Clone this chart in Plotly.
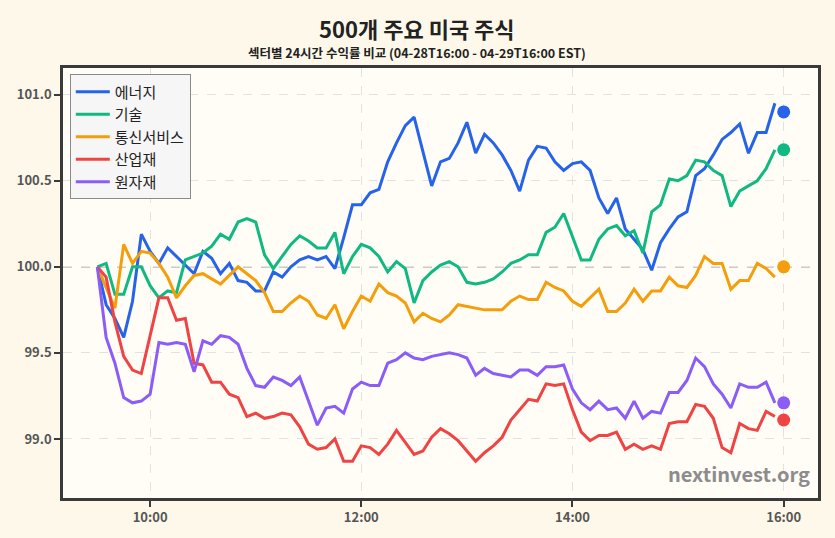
import plotly.graph_objects as go
import pandas as pd

# ---------------- data ----------------
start_time = "2025-04-29 09:30"
n_points = 78  # 5-minute steps, 09:30 .. 15:55
times = pd.date_range(start_time, periods=n_points, freq="5min")
end_time = "2025-04-29 16:00"

sector_names = ["에너지", "기술", "통신서비스", "산업재", "원자재"]

energy = [100.00, 99.78, 99.70, 99.59, 99.80, 100.19, 100.09, 100.02, 100.11, 100.06,
          100.01, 99.96, 100.09, 100.05, 99.96, 100.02, 99.92, 99.91, 99.86, 99.86,
          99.97, 99.94, 100.00, 100.04, 100.06, 100.04, 100.06, 99.99, 100.17, 100.36,
          100.36, 100.43, 100.45, 100.61, 100.72, 100.82, 100.87, 100.67, 100.47, 100.61,
          100.63, 100.72, 100.84, 100.66, 100.77, 100.72, 100.65, 100.56, 100.44, 100.62,
          100.70, 100.69, 100.61, 100.56, 100.60, 100.61, 100.56, 100.40, 100.31, 100.40,
          100.22, 100.16, 100.10, 99.98, 100.14, 100.22, 100.29, 100.32, 100.53, 100.57,
          100.65, 100.74, 100.78, 100.83, 100.66, 100.78, 100.78, 100.95]

tech = [100.00, 100.02, 99.84, 99.84, 100.00, 100.00, 99.89, 99.82, 99.86, 99.85,
        100.04, 100.06, 100.08, 100.12, 100.19, 100.16, 100.26, 100.28, 100.26, 100.07,
        99.99, 100.06, 100.13, 100.18, 100.15, 100.11, 100.11, 100.20, 99.96, 100.06,
        100.13, 100.11, 100.06, 99.97, 100.03, 99.99, 99.79, 99.92, 99.97, 100.01,
        100.03, 100.00, 99.91, 99.90, 99.91, 99.93, 99.97, 100.02, 100.04, 100.07,
        100.07, 100.20, 100.23, 100.31, 100.17, 100.04, 100.04, 100.16, 100.22, 100.24,
        100.18, 100.21, 100.08, 100.32, 100.36, 100.51, 100.50, 100.53, 100.62, 100.61,
        100.56, 100.53, 100.35, 100.44, 100.47, 100.50, 100.57, 100.68]

telecom = [100.00, 99.88, 99.76, 100.13, 100.02, 100.09, 100.08, 100.02, 99.94, 99.82,
           99.89, 99.95, 99.96, 99.93, 99.90, 99.95, 100.00, 99.96, 99.92, 99.85,
           99.74, 99.74, 99.79, 99.83, 99.80, 99.72, 99.70, 99.78, 99.64, 99.74,
           99.83, 99.80, 99.90, 99.85, 99.83, 99.79, 99.68, 99.73, 99.70, 99.68,
           99.72, 99.78, 99.77, 99.76, 99.75, 99.75, 99.75, 99.80, 99.83, 99.81,
           99.81, 99.91, 99.88, 99.86, 99.80, 99.77, 99.82, 99.87, 99.74, 99.74,
           99.79, 99.87, 99.80, 99.86, 99.86, 99.94, 99.89, 99.88, 99.95, 100.06,
           100.02, 100.02, 99.87, 99.92, 99.92, 100.02, 99.99, 99.94]

industrials = [100.00, 99.94, 99.68, 99.48, 99.40, 99.38, 99.60, 99.82, 99.82, 99.69,
               99.70, 99.44, 99.43, 99.33, 99.33, 99.26, 99.24, 99.13, 99.15, 99.12,
               99.13, 99.15, 99.14, 99.07, 98.97, 98.94, 98.95, 99.00, 98.87, 98.87,
               98.96, 98.95, 98.91, 98.97, 99.05, 98.98, 98.91, 98.93, 99.01, 99.06,
               99.03, 98.99, 98.93, 98.87, 98.92, 98.96, 99.01, 99.11, 99.17, 99.23,
               99.22, 99.32, 99.31, 99.32, 99.17, 99.04, 98.99, 99.02, 99.02, 99.04,
               98.94, 98.97, 98.94, 98.96, 98.94, 99.09, 99.10, 99.10, 99.20, 99.19,
               99.12, 98.95, 98.92, 99.09, 99.06, 99.05, 99.16, 99.13]

materials = [100.00, 99.59, 99.44, 99.24, 99.21, 99.22, 99.26, 99.56, 99.55, 99.56,
             99.55, 99.39, 99.57, 99.55, 99.60, 99.59, 99.55, 99.41, 99.31, 99.30,
             99.36, 99.34, 99.31, 99.36, 99.22, 99.08, 99.18, 99.19, 99.15, 99.29,
             99.33, 99.31, 99.31, 99.44, 99.46, 99.50, 99.47, 99.46, 99.48, 99.49,
             99.50, 99.49, 99.47, 99.37, 99.41, 99.38, 99.37, 99.36, 99.40, 99.40,
             99.37, 99.42, 99.42, 99.43, 99.29, 99.21, 99.17, 99.22, 99.17, 99.18,
             99.12, 99.22, 99.12, 99.16, 99.15, 99.27, 99.27, 99.34, 99.47, 99.42,
             99.32, 99.26, 99.18, 99.32, 99.30, 99.30, 99.33, 99.21]

end_values = [100.90, 100.68, 100.00, 99.11, 99.21]

series = [energy, tech, telecom, industrials, materials]
colors = ["#2563eb", "#10b981", "#f59e0b", "#ef4444", "#8b5cf6"]

x_ticks = ["2025-04-29 10:00", "2025-04-29 12:00", "2025-04-29 14:00", "2025-04-29 16:00"]
x_tick_labels = ["10:00", "12:00", "14:00", "16:00"]
y_ticks = [99.0, 99.5, 100.0, 100.5, 101.0]
y_tick_labels = ["99.0", "99.5", "100.0", "100.5", "101.0"]

title_text = "500개 주요 미국 주식"
subtitle_text = "섹터별 24시간 수익률 비교 (04-28T16:00 - 04-29T16:00 EST)"
watermark = "nextinvest.org"

FONT = "Noto Sans CJK KR"

# ---------------- figure ----------------
fig = go.Figure()

for name, vals, col in zip(sector_names, series, colors):
    fig.add_trace(go.Scatter(
        x=times, y=vals, mode="lines", name=name,
        line=dict(color=col, width=3),
    ))

for name, v, col in zip(sector_names, end_values, colors):
    fig.add_trace(go.Scatter(
        x=[end_time], y=[v], mode="markers", showlegend=False,
        marker=dict(color=col, size=13, line=dict(width=0)),
        name=name,
    ))

# reference line at 100
fig.add_hline(y=100.0, line=dict(color="#9a9a9a", width=1.5, dash="dash"), layer="below")

fig.add_annotation(
    text=f"<b>{watermark}</b>", xref="paper", yref="paper",
    x=0.992, y=0.018, xanchor="right", yanchor="bottom", showarrow=False,
    font=dict(family=FONT, size=20, color="#8c8c8c"),
)

# title + subtitle
fig.add_annotation(
    text=f"<b>{title_text}</b>", xref="paper", yref="paper",
    x=0.5 + (417 - (63 + 755 / 2)) / 755, y=1 + (68 - 28) / 430,
    xanchor="center", yanchor="middle", showarrow=False,
    font=dict(family=FONT, size=22, color="#222222"),
)
fig.add_annotation(
    text=f"<b>{subtitle_text}</b>", xref="paper", yref="paper",
    x=0.5 + (417 - (63 + 755 / 2)) / 755, y=1 + (68 - 52) / 430,
    xanchor="center", yanchor="middle", showarrow=False,
    font=dict(family=FONT, size=12.5, color="#222222"),
)

fig.update_layout(
    width=835, height=538,
    margin=dict(l=63, r=17, t=68, b=40),
    paper_bgcolor="#fdf8e9",
    plot_bgcolor="#fffdf6",
    font=dict(family=FONT, size=13, color="#555555"),
    showlegend=True,
    legend=dict(
        x=0.009, y=0.985, xanchor="left", yanchor="top",
        bgcolor="rgba(245,245,245,0.95)", bordercolor="#8a8a8a", borderwidth=1,
        font=dict(family=FONT, size=15, color="#222222"),
        tracegroupgap=0, itemwidth=34,
    ),
    hovermode=False,
)

tick_font = dict(family=FONT, size=13, color="#555555", weight=600)

fig.update_xaxes(
    range=["2025-04-29 09:10:30", "2025-04-29 16:19:30"],
    tickvals=x_ticks, ticktext=x_tick_labels,
    showgrid=True, gridcolor="#e2e2e2", griddash="dash", gridwidth=1,
    showline=True, linecolor="#3a3a3a", linewidth=2.5, mirror=True,
    ticks="outside", ticklen=6, tickwidth=1.5, tickcolor="#3a3a3a",
    tickfont=tick_font,
    zeroline=False,
)
fig.update_yaxes(
    range=[98.657, 101.155],
    tickvals=y_ticks, ticktext=y_tick_labels,
    showgrid=True, gridcolor="#e2e2e2", griddash="dash", gridwidth=1,
    showline=True, linecolor="#3a3a3a", linewidth=2.5, mirror=True,
    ticks="outside", ticklen=6, tickwidth=1.5, tickcolor="#3a3a3a",
    tickfont=tick_font,
    zeroline=False,
)

fig.write_html("out.html")
